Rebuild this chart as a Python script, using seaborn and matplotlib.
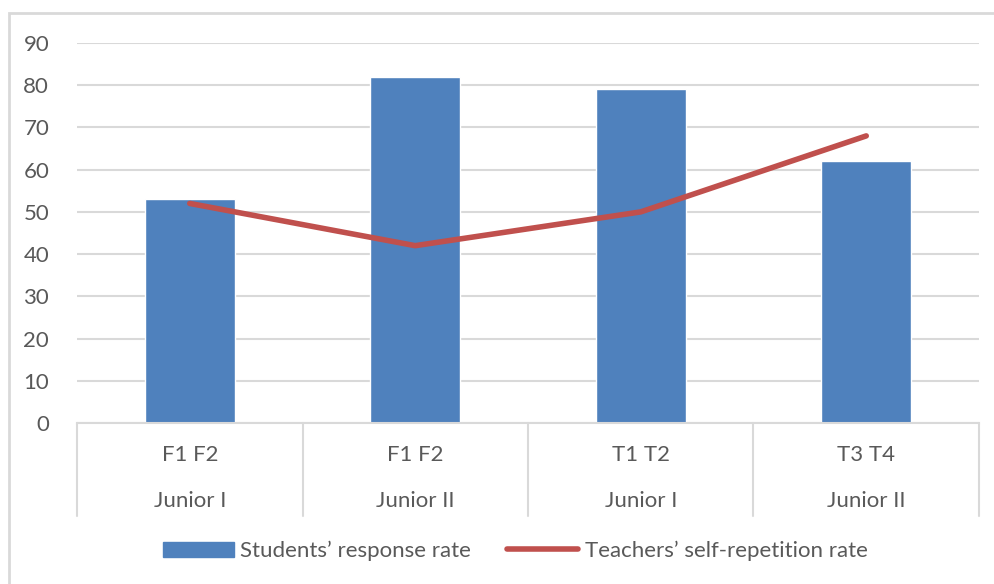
import numpy as np
import pandas as pd
import matplotlib.pyplot as plt
import matplotlib.transforms as mtransforms
from matplotlib.patches import Patch, Rectangle
from matplotlib.lines import Line2D
import seaborn as sns

# %% Data.
terms = ['F1 F2', 'F1 F2', 'T1 T2', 'T3 T4']
grades = ['Junior I', 'Junior II', 'Junior I', 'Junior II']
students = [53, 82, 79, 62]
teachers = [52, 42, 50, 68]

df = pd.DataFrame({'key': [f'{t}\n{g}' for t, g in zip(terms, grades)],
                   'students': students, 'teachers': teachers})

blue = '#4F81BD'
red = '#C0504D'
grid = '#D9D9D9'
txt = '#595959'
fs = 16

# %% Draw.
sns.set_theme(style='white')
plt.rcParams['font.family'] = ['Lato', 'DejaVu Sans']

fig = plt.figure(figsize=(9.95, 5.84), dpi=100)
ax = fig.add_axes([77 / 995, 1 - 423 / 584, (979 - 77) / 995, (423 - 43) / 584])

sns.barplot(data=df, x='key', y='students', color=blue, width=0.4, saturation=1, ax=ax, zorder=2)
sns.lineplot(data=df, x='key', y='teachers', color=red, linewidth=4, ax=ax, zorder=3,
             solid_capstyle='round', solid_joinstyle='round')

ax.set_ylim(0, 90)
ax.set_xlim(-0.5, len(df) - 0.5)
ax.set_yticks(np.arange(0, 91, 10))
ax.yaxis.grid(True, color=grid, linewidth=1.5)
ax.set_axisbelow(True)
ax.tick_params(axis='y', length=0, pad=20, labelsize=fs, labelcolor=txt)
ax.set_xticks([])
ax.set_xlabel('')
ax.set_ylabel('')
for s in ['top', 'right', 'left']:
    ax.spines[s].set_visible(False)
ax.spines['bottom'].set_color(grid)
ax.spines['bottom'].set_linewidth(1.5)

# two-level category axis
tr = mtransforms.blended_transform_factory(ax.transData, ax.transAxes)
for i in range(len(df) + 1):
    ax.plot([i - 0.5, i - 0.5], [0, -93 / 380], transform=tr, color=grid, lw=1.5, clip_on=False)
for i, (t, g) in enumerate(zip(terms, grades)):
    ax.text(i, -32 / 380, t, transform=tr, ha='center', va='center', fontsize=fs, color=txt)
    ax.text(i, -78 / 380, g, transform=tr, ha='center', va='center', fontsize=fs, color=txt)

# chart border
fig.patches.append(Rectangle((9 / 995, -0.1), 1.2, 1 - 13 / 584 + 0.1, transform=fig.transFigure,
                             fill=False, edgecolor=grid, linewidth=2))

handles = [Patch(facecolor=blue, edgecolor=blue),
           Line2D([0], [0], color=red, lw=4, solid_capstyle='round')]
fig.legend(handles, ['Students\u2019 response rate', 'Teachers\u2019 self-repetition rate'],
           loc='center', bbox_to_anchor=(515 / 995, 1 - 551 / 584), ncol=2, frameon=False,
           fontsize=fs, labelcolor=txt, handlelength=3.2, handletextpad=0.3, columnspacing=1.6)

fig.savefig('out.png', dpi=100)
